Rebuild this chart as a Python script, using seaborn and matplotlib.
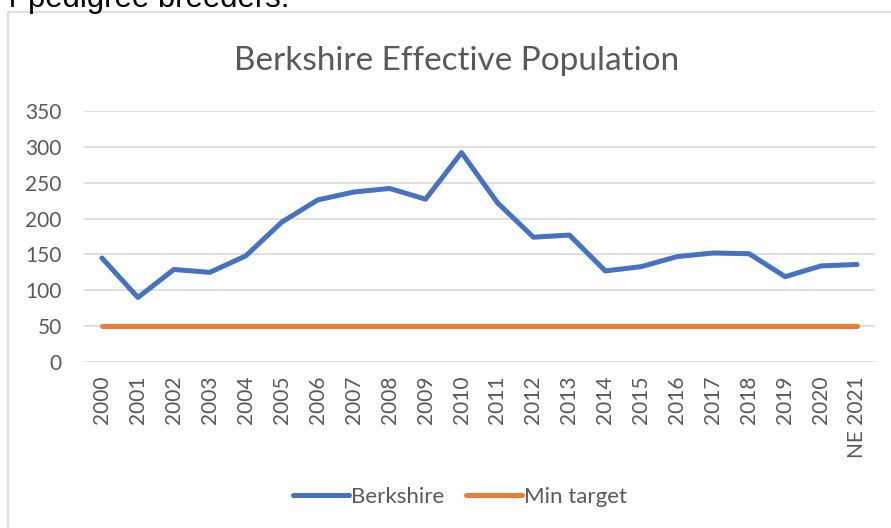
import numpy as np
import pandas as pd
import seaborn as sns
import matplotlib.pyplot as plt
from matplotlib.patches import Rectangle
from matplotlib.lines import Line2D

# Values
years = ['2000', '2001', '2002', '2003', '2004', '2005', '2006', '2007', '2008', '2009', '2010',
         '2011', '2012', '2013', '2014', '2015', '2016', '2017', '2018', '2019', '2020', 'NE 2021']
berkshire = [145, 90, 129, 125, 148, 195, 226, 237, 242, 227, 292,
             222, 174, 177, 127, 133, 147, 152, 151, 119, 134, 136]
min_target = [50] * len(years)

df = pd.DataFrame({'pos': list(range(len(years))) * 2,
                   'value': berkshire + min_target,
                   'series': ['Berkshire'] * len(years) + ['Min target'] * len(years)})

sns.set_style('white')
plt.rcParams['font.family'] = ['Lato', 'DejaVu Sans']
grey = '#595959'

fig = plt.figure(figsize=(8.91, 5.28), dpi=100)
ax = fig.add_axes([84 / 891, 1 - 362 / 528, 791 / 891, 251 / 528])

sns.lineplot(data=df, x='pos', y='value', hue='series',
             palette={'Berkshire': '#4472C4', 'Min target': '#ED7D31'},
             linewidth=3.6, ax=ax, legend=False, solid_capstyle='round')

ax.set_xlim(-0.5, len(years) - 0.5)
ax.set_ylim(0, 350)
ax.set_yticks(range(0, 351, 50))
ax.set_xticks(range(len(years)))
ax.set_xticklabels(years, rotation=90, va='top')
ax.tick_params(axis='both', length=0, labelsize=15, colors=grey, pad=10)
ax.tick_params(axis='y', pad=16)
ax.grid(axis='y', color='#D9D9D9', linewidth=1.2)
ax.set_axisbelow(True)
for s in ax.spines.values():
    s.set_visible(False)
ax.set_xlabel('')
ax.set_ylabel('')

fig.text(457 / 891, 1 - 61 / 528, 'Berkshire Effective Population',
         ha='center', va='center', fontsize=24, color=grey)

# legend
handles = [Line2D([], [], color='#4472C4', lw=3.6, solid_capstyle='round'),
           Line2D([], [], color='#ED7D31', lw=3.6, solid_capstyle='round')]
fig.legend(handles, ['Berkshire', 'Min target'], loc='center',
           bbox_to_anchor=(460 / 891, 1 - 497 / 528), ncol=2, frameon=False,
           fontsize=16, labelcolor=grey, handlelength=2.5, handletextpad=0.1,
           columnspacing=1.0)

# chart frame and the clipped line of document text above it
fig.patches.append(Rectangle((7.5 / 891, -0.1), 1.2, (528 - 12.5) / 528 + 0.1,
                             transform=fig.transFigure, fill=False,
                             edgecolor='#D9D9D9', linewidth=1.2))
fig.text(9 / 891, 1 - 7 / 528, 'r pedigree breeders.', ha='left', va='baseline',
         fontsize=22.3, color='black', family='Liberation Sans')

fig.savefig('out.png', dpi=100)
